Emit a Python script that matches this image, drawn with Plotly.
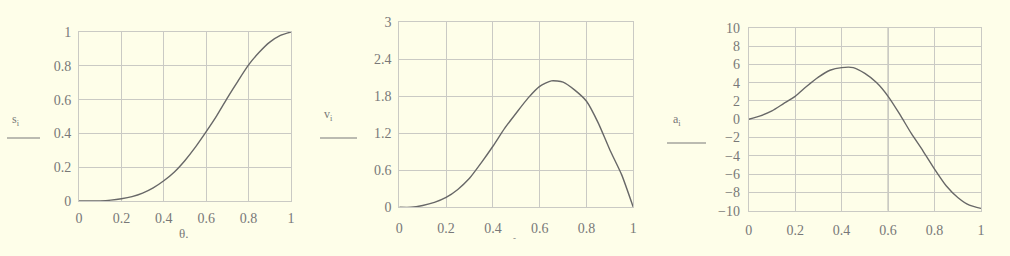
import plotly.graph_objects as go

theta = [0, 0.05, 0.1, 0.15, 0.2, 0.25, 0.3, 0.35, 0.4, 0.45, 0.5,
         0.55, 0.6, 0.65, 0.7, 0.75, 0.8, 0.85, 0.9, 0.95, 1.0]
s_vals = [0, 0, 0.001, 0.005, 0.013, 0.026, 0.047, 0.078, 0.12, 0.172, 0.24,
          0.32, 0.41, 0.505, 0.61, 0.71, 0.805, 0.88, 0.94, 0.98, 1.0]
v_vals = [0, 0, 0.03, 0.08, 0.16, 0.29, 0.47, 0.72, 0.99, 1.28, 1.53,
          1.77, 1.96, 2.05, 2.03, 1.9, 1.72, 1.37, 0.93, 0.53, 0]
a_vals = [0, 0.36, 0.9, 1.7, 2.5, 3.6, 4.6, 5.35, 5.64, 5.64, 5.0,
          4.0, 2.5, 0.55, -1.56, -3.45, -5.45, -7.27, -8.55, -9.4, -9.75]

x_ticks = [0, 0.2, 0.4, 0.6, 0.8, 1]
s_ticks = [0, 0.2, 0.4, 0.6, 0.8, 1]
v_ticks = [0, 0.6, 1.2, 1.8, 2.4, 3]
a_ticks = [-10, -8, -6, -4, -2, 0, 2, 4, 6, 8, 10]

W, H = 1010, 256
BG = "#FEFEE9"
GRID = "#CACAC4"
TXT = "#787878"
CURVE = "#686868"
FONT = "Liberation Serif"

def px(x):
    return x / W

def py(y):
    return 1 - y / H

fig = go.Figure()
for i, yv in enumerate([s_vals, v_vals, a_vals]):
    sfx = "" if i == 0 else str(i + 1)
    fig.add_trace(go.Scatter(x=theta, y=yv, mode="lines",
                             line=dict(color=CURVE, width=1.4, shape="spline", smoothing=0.6),
                             xaxis="x" + sfx, yaxis="y" + sfx, showlegend=False, hoverinfo="skip"))

domains = [
    ((79, 291), (32, 201)),
    ((399.3, 633.3), (22.3, 207.3)),
    ((748.7, 981), (27.7, 210.7)),
]
yticks = [s_ticks, v_ticks, a_ticks]
yranges = [[0, 1], [0, 3], [-10, 10]]
xstand = [4, 8, 6]
ystand = [4, 4, 5]

axcommon = dict(showgrid=True, gridcolor=GRID, gridwidth=1, showline=True, linecolor=GRID, linewidth=1,
                mirror=True, zeroline=False, ticks="", automargin=False,
                tickfont=dict(family=FONT, size=14, color=TXT), fixedrange=True)
layout = {}
for i in range(3):
    sfx = "" if i == 0 else str(i + 1)
    (x0, x1), (y0, y1) = domains[i]
    layout["xaxis" + sfx] = dict(axcommon, domain=[px(x0), px(x1)], range=[0, 1], tickvals=x_ticks,
                                  ticktext=[f"{t:g}" for t in x_ticks], anchor="y" + sfx,
                                  ticklabelstandoff=xstand[i])
    layout["yaxis" + sfx] = dict(axcommon, domain=[py(y1), py(y0)], range=yranges[i], tickvals=yticks[i],
                                  ticktext=[(f"{t:g}".replace("-", "\u2212")) for t in yticks[i]],
                                  anchor="x" + sfx, ticklabelstandoff=ystand[i])

fig.update_layout(template="none", width=W, height=H, autosize=False,
                  margin=dict(l=0, r=0, t=0, b=0, pad=0), paper_bgcolor=BG, plot_bgcolor=BG,
                  **layout)

# slightly darker grid line seen in the third panel
fig.add_shape(type="line", xref="x3", yref="y3 domain", x0=0.6, x1=0.6, y0=0, y1=1,
              line=dict(color="#A9A9A4", width=1), layer="below")

labels = [("s", 10, 120, 7, 40, 138), ("v", 322, 115, 320, 357, 138), ("a", 671, 120, 667, 706, 143)]
for ch, lx, ly, sx0, sx1, sy in labels:
    fig.add_annotation(x=px(lx), y=py(ly), xref="paper", yref="paper",
                       text=ch + "<sub>i</sub>", showarrow=False,
                       font=dict(family=FONT, size=12, color=TXT), xanchor="left", yanchor="middle")
    fig.add_shape(type="line", xref="paper", yref="paper", x0=px(sx0), x1=px(sx1), y0=py(sy), y1=py(sy),
                  line=dict(color=TXT, width=1))

fig.add_annotation(x=px(183), y=py(233), xref="paper", yref="paper", text="\u03b8.", showarrow=False,
                   font=dict(family=FONT, size=13, color=TXT), xanchor="center", yanchor="middle")
fig.add_annotation(x=px(514), y=py(238), xref="paper", yref="paper", text="-", showarrow=False,
                   font=dict(family=FONT, size=9, color=TXT), xanchor="center", yanchor="middle")

fig.write_html("out.html", config={"displayModeBar": False})
